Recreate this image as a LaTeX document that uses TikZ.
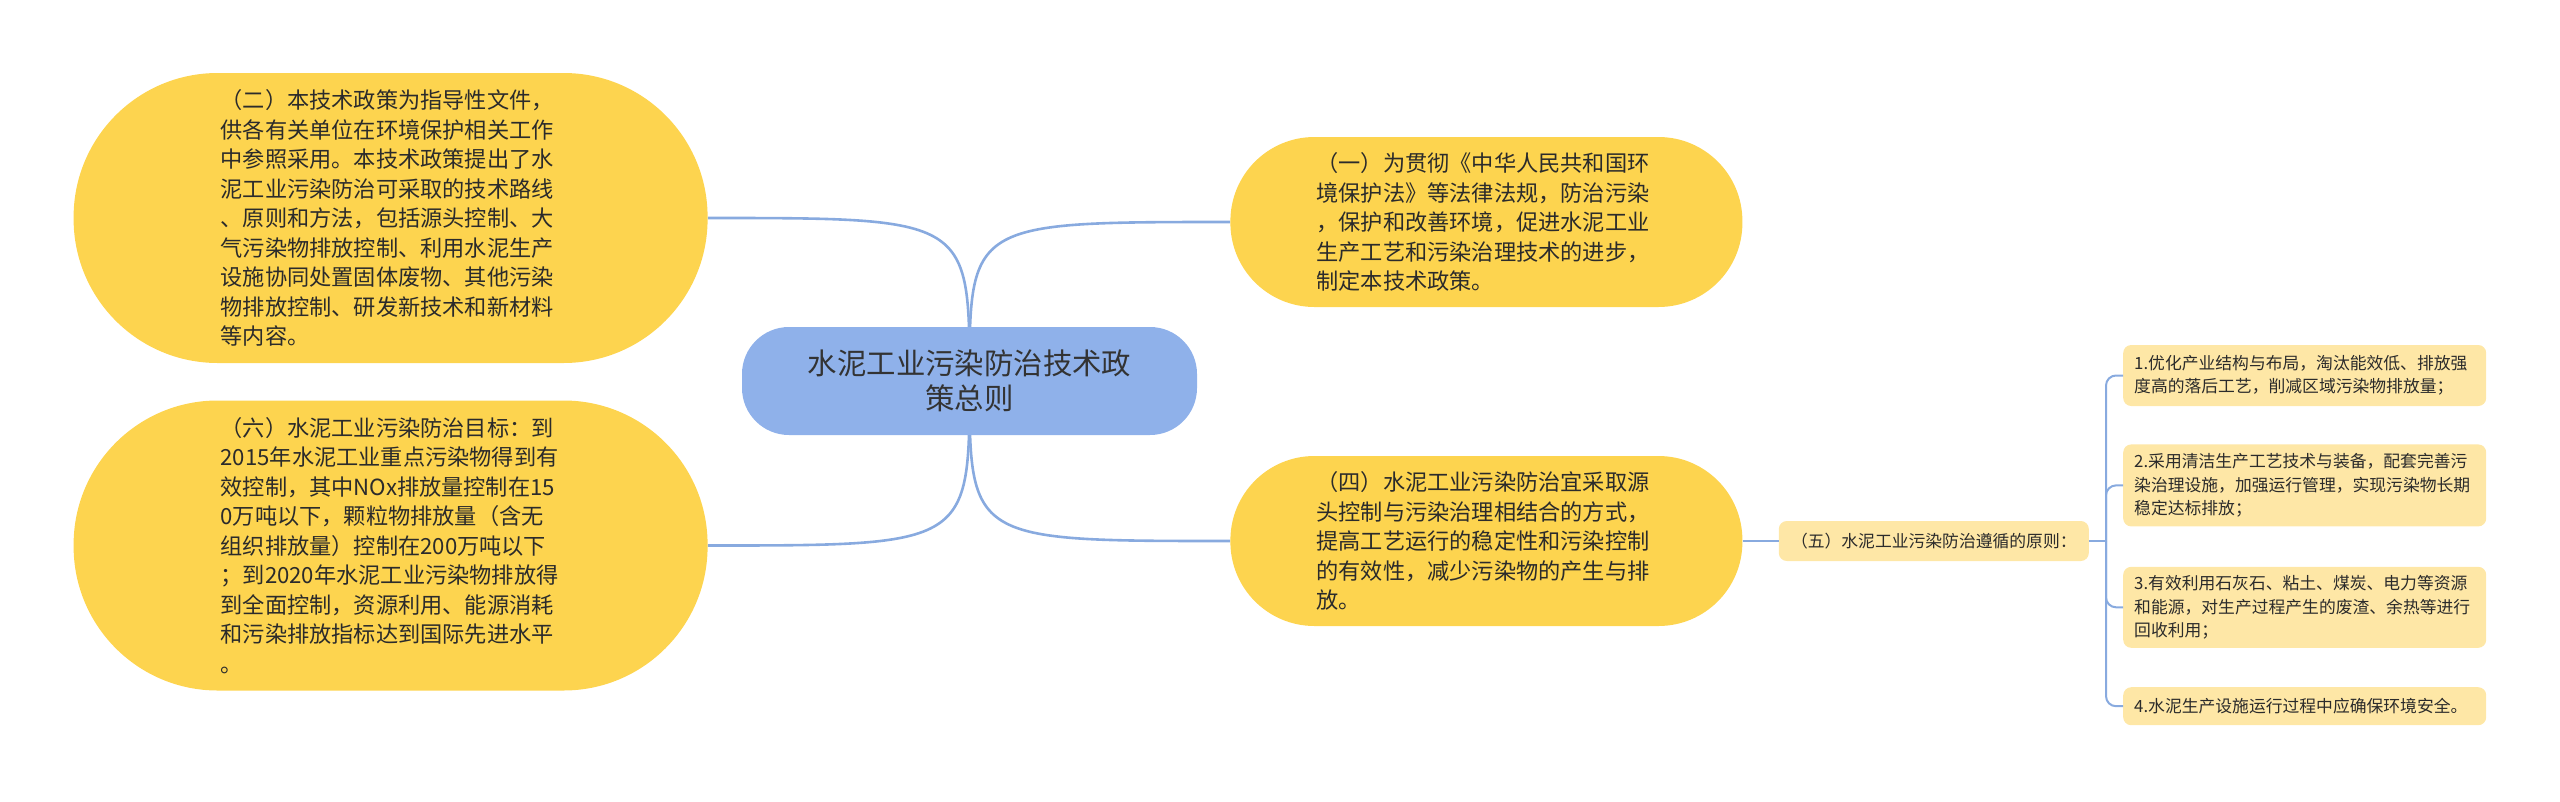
\documentclass[tikz,border=0pt]{standalone}
\usepackage{fontspec}
\newfontfamily\cjk{Noto Sans CJK SC}
\usetikzlibrary{positioning,backgrounds}
\definecolor{pillyellow}{HTML}{FDD44F}
\definecolor{rootblue}{HTML}{8FB1EA}
\definecolor{linkblue}{HTML}{88AADF}
\definecolor{noteyellow}{HTML}{FEE7A6}
\definecolor{inkgray}{HTML}{2B2B2B}

\begin{document}
\begin{tikzpicture}[
    x=1pt, y=-1pt,
    every node/.style={inner sep=0pt, text=inkgray},
    root/.style={fill=rootblue, rounded corners=47pt, align=center, minimum width=455pt, minimum height=108pt, font=\cjk\fontsize{29.4}{35}\selectfont, text=black!80},
    bigpill/.style={fill=pillyellow, rounded corners=144pt, text width=340pt, align=left, minimum width=634pt, minimum height=290pt, font=\cjk\fontsize{22.2}{29.5}\selectfont},
    pill/.style={fill=pillyellow, rounded corners=84pt, text width=340pt, align=left, minimum width=512pt, minimum height=170pt, font=\cjk\fontsize{22.2}{29.5}\selectfont},
    rulebox/.style={fill=noteyellow, rounded corners=8pt, minimum width=310pt, minimum height=40pt, font=\cjk\fontsize{16.8}{20}\selectfont},
    note/.style={fill=noteyellow, rounded corners=8pt, text width=341pt, align=left, inner xsep=11pt, inner ysep=4pt, font=\cjk\fontsize{16.8}{23.3}\selectfont},
    link/.style={draw=linkblue, line width=2.6pt},
    twig/.style={draw=linkblue, line width=2pt, rounded corners=10pt}
]
\useasboundingbox (0,0) rectangle (2560,801);
\node[root] (root) at (969.5,381) {水泥工业污染防治技术政\\策总则};
\node[bigpill, left=34pt of root, yshift=163pt] (two) {（二）本技术政策为指导性文件，\\供各有关单位在环境保护相关工作\\中参照采用。本技术政策提出了水\\泥工业污染防治可采取的技术路线\\、原则和方法，包括源头控制、大\\气污染物排放控制、利用水泥生产\\设施协同处置固体废物、其他污染\\物排放控制、研发新技术和新材料\\等内容。};
\node[bigpill, left=34pt of root, yshift=-164.5pt] (six) {（六）水泥工业污染防治目标：到\\2015年水泥工业重点污染物得到有\\效控制，其中NOx排放量控制在15\\0万吨以下，颗粒物排放量（含无\\组织排放量）控制在200万吨以下\\；到2020年水泥工业污染物排放得\\到全面控制，资源利用、能源消耗\\和污染排放指标达到国际先进水平\\。};
\node[pill, right=33pt of root, yshift=159pt] (one) {（一）为贯彻《中华人民共和国环\\境保护法》等法律法规，防治污染\\，保护和改善环境，促进水泥工业\\生产工艺和污染治理技术的进步，\\制定本技术政策。};
\node[pill, right=33pt of root, yshift=-160pt] (four) {（四）水泥工业污染防治宜采取源\\头控制与污染治理相结合的方式，\\提高工艺运行的稳定性和污染控制\\的有效性，减少污染物的产生与排\\放。};
\node[rulebox, right=36pt of four] (five) {（五）水泥工业污染防治遵循的原则：};
\coordinate[right=17pt of five] (fork);
\node[note, right=17pt of fork, yshift=165.5pt, minimum height=61pt] (p1) {1.优化产业结构与布局，淘汰能效低、排放强\\度高的落后工艺，削减区域污染物排放量；};
\node[note, below=38pt of p1, minimum height=82pt] (p2) {2.采用清洁生产工艺技术与装备，配套完善污\\染治理设施，加强运行管理，实现污染物长期\\稳定达标排放；};
\node[note, below=40pt of p2, minimum height=81pt] (p3) {3.有效利用石灰石、粘土、煤炭、电力等资源\\和能源，对生产过程产生的废渣、余热等进行\\回收利用；};
\node[note, below=39pt of p3, minimum height=38pt] (p4) {4.水泥生产设施运行过程中应确保环境安全。};
\begin{scope}[on background layer]
\draw[link] (root.center) .. controls (root.center |- two.east) .. (two.east);
\draw[link] (root.center) .. controls (root.center |- six.east) .. (six.east);
\draw[link] (root.center) .. controls (root.center |- one.west) .. (one.west);
\draw[link] (root.center) .. controls (root.center |- four.west) .. (four.west);
\end{scope}
\draw[link] (four.east) -- (five.west);
\draw[twig] (five.east) -- (fork);
\foreach \p in {p1,p2,p3,p4}
  \draw[twig] (fork) |- (\p.west);
\end{tikzpicture}
\end{document}
